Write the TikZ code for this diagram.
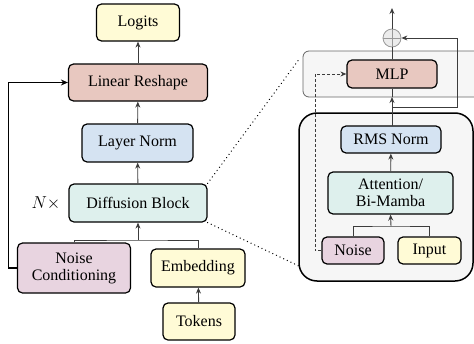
\documentclass[tikz,border=0pt]{standalone}
\usepackage{fontspec}
\setmainfont{Liberation Serif}
\usetikzlibrary{arrows.meta,calc}
\definecolor{cyel}{RGB}{255,251,214}
\definecolor{cred}{RGB}{232,200,192}
\definecolor{cblu}{RGB}{213,227,242}
\definecolor{cgrn}{RGB}{222,240,237}
\definecolor{cpur}{RGB}{232,212,224}
\definecolor{cbg}{RGB}{246,246,246}
\definecolor{cln}{RGB}{60,60,60}
\tikzset{
  blk/.style={draw=black, line width=1.2pt, rounded corners=5pt, inner sep=0pt, align=center,
    font=\fontsize{16}{18}\selectfont},
  conn/.style={draw=cln, line width=0.9pt},
  arr/.style={conn, -{Stealth[length=6pt,width=5pt]}},
  dotl/.style={line width=1.4pt, dash pattern=on 0.01pt off 4pt, line cap=round},
}
\begin{document}
\begin{tikzpicture}[x=1pt,y=-1pt]
\useasboundingbox (0,0) rectangle (474,343);
\clip (0,0) rectangle (474,343);
% background boxes
\node[draw=gray!80!black, line width=0.8pt, fill=cbg, rounded corners=6pt, minimum width=190pt, minimum height=46pt, inner sep=0pt] (topbox) at (398,74) {};
\node[draw=black, line width=1.5pt, fill=cbg, rounded corners=18pt, minimum width=174pt, minimum height=168pt, inner sep=0pt] (botbox) at (386,197) {};
% left column
\node[blk, fill=cyel, minimum width=83pt, minimum height=37pt] (logits) at (138,22.5) {Logits};
\node[blk, fill=cred, minimum width=139pt, minimum height=37pt] (linres) at (138,82.5) {Linear Reshape};
\node[blk, fill=cblu, minimum width=111pt, minimum height=38pt] (lnorm) at (137.5,143) {Layer Norm};
\node[blk, fill=cgrn, minimum width=138pt, minimum height=38pt] (diff) at (138,203) {Diffusion Block};
\node[font=\fontsize{17}{19}\selectfont] (nx) at (46,203) {$N\times$};
\node[blk, fill=cpur, minimum width=113pt, minimum height=50pt] (noisec) at (74,268) {Noise\\[-1pt]Conditioning};
\node[blk, fill=cyel, minimum width=94pt, minimum height=38pt] (embed) at (198,268) {Embedding};
\node[blk, fill=cyel, minimum width=72pt, minimum height=37pt] (tokens) at (199,321.5) {Tokens};
% right detail
\node[blk, fill=cred, minimum width=90pt, minimum height=28pt] (mlp) at (392,74) {MLP};
\node[blk, fill=cblu, minimum width=100pt, minimum height=27pt] (rms) at (391,139.5) {RMS Norm};
\node[blk, fill=cgrn, minimum width=125pt, minimum height=42pt] (attn) at (390.5,193) {Attention/\\[-1pt]Bi-Mamba};
\node[blk, fill=cpur, minimum width=62pt, minimum height=27pt] (noise) at (353,250.5) {Noise};
\node[blk, fill=cyel, minimum width=63pt, minimum height=27pt] (input) at (429.5,250.5) {Input};
\node[circle, draw=gray!80, fill=gray!15, line width=0.8pt, minimum size=18pt, inner sep=0pt] (plus) at (392,38) {};
\draw[gray!80, line width=0.8pt] (plus.north) -- (plus.south) (plus.west) -- (plus.east);
% left connectors
\draw[arr] (linres) -- (logits);
\draw[arr] (lnorm) -- (linres);
\draw[arr] (diff) -- (lnorm);
\coordinate (j1) at (138,240);
\draw[conn] (noisec.north) |- (j1) -| (embed.north);
\draw[arr] (j1) -- (diff.south);
\draw[arr] (tokens) -- (embed);
\draw[line width=1.3pt, -{Stealth[length=7pt,width=6pt]}] (noisec.west) -- (8.5,268) |- (linres.west);
% right connectors
\coordinate (j2) at (391,226);
\draw[conn] (noise.north) |- (j2) -| (input.north);
\draw[arr] (j2) -- (attn.south);
\draw[arr] (attn) -- (rms);
\coordinate (tb) at (392,97);
\draw[arr] (392,126) -- (tb);
\draw[conn] (tb) -- (mlp.south);
\draw[conn] (mlp.north) -- (plus.south);
\draw[arr] (plus.north) -- (392,8);
\coordinate (sk) at (392,107);
\draw[arr] (sk) -- (457,107) |- (plus.east);
\draw[arr, dashed, dash pattern=on 3pt off 2pt] (noise.west) -- (315,250.5) |- (mlp.west);
% dotted zoom lines
\coordinate (z1) at (300,58);
\coordinate (z2) at (301,267);
\draw[dotl] (diff.north east) -- (z1);
\draw[dotl] (diff.south east) -- (z2);
\end{tikzpicture}
\end{document}
